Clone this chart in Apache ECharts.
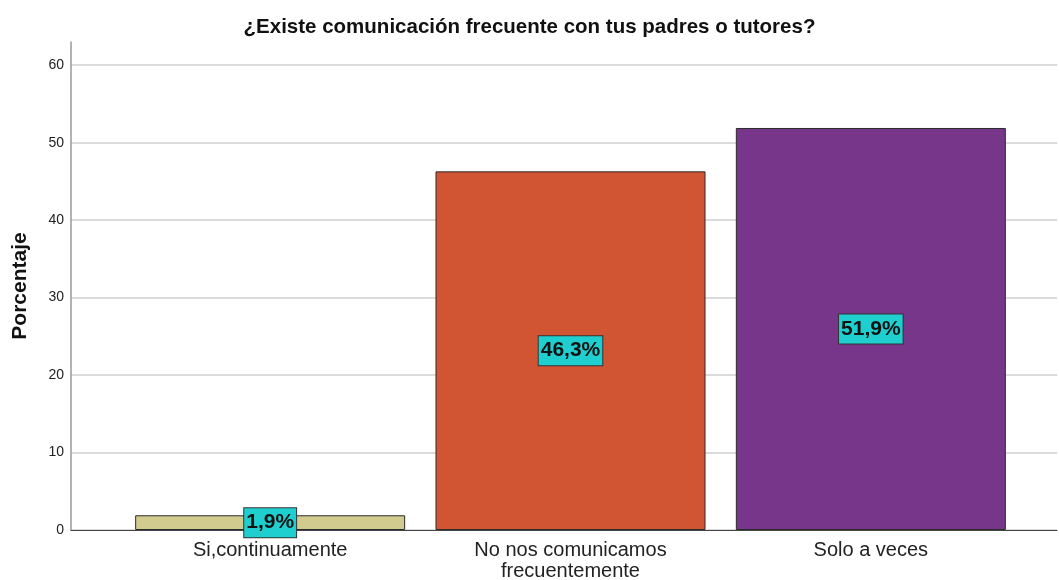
<!DOCTYPE html>
<html>
<head>
<meta charset="utf-8">
<script src="https://cdn.jsdelivr.net/npm/echarts@6/dist/echarts.min.js"></script>
<style>
  html, body { margin: 0; padding: 0; background: #fff; }
  #chart { width: 1059px; height: 580px; }
</style>
</head>
<body>
<div id="chart"></div>
<script>
const categories = ['Si,continuamente', 'No nos comunicamos\nfrecuentemente', 'Solo a veces'];
const percentages = [1.9, 46.3, 51.9];
const barColors = ['#d1cb8f', '#d15433', '#77368a'];
const yTicks = [0, 10, 20, 30, 40, 50, 60];

const chart = echarts.init(document.getElementById('chart'));

const font = 'Liberation Sans, Arial, sans-serif';

const option = {
  backgroundColor: '#ffffff',
  animation: false,
  title: {
    text: '¿Existe comunicación frecuente con tus padres o tutores?',
    left: 'center',
    top: 12,
    textStyle: { fontFamily: font, fontSize: 20.5, fontWeight: 'bold', color: '#111' }
  },
  grid: [
    { left: 71, right: 2, top: 42, bottom: 50, outerBoundsMode: 'none' },
    { left: 120, right: 38, top: 42, bottom: 50, outerBoundsMode: 'none' }
  ],
  xAxis: [
    {
      gridIndex: 0, type: 'value', min: 0, max: 1,
      axisLine: { show: true, onZero: false, lineStyle: { color: '#444', width: 1 } },
      axisTick: { show: false }, axisLabel: { show: false }, splitLine: { show: false }
    },
    {
      gridIndex: 1, type: 'category', data: categories,
      axisLine: { show: false }, axisTick: { show: false },
      axisLabel: {
        fontFamily: font, fontSize: 20, color: '#222', margin: 10, lineHeight: 21,
        interval: 0
      }
    }
  ],
  yAxis: [
    {
      gridIndex: 0, type: 'value', min: 0, max: 63, interval: 10,
      name: 'Porcentaje', nameLocation: 'middle', nameGap: 40, nameRotate: 90,
      nameTextStyle: { fontFamily: font, fontSize: 21, fontWeight: 'bold', color: '#111' },
      axisLine: { show: true, lineStyle: { color: '#999', width: 1.5 } },
      axisTick: { show: false },
      axisLabel: {
        fontFamily: font, fontSize: 14, color: '#222', margin: 7, showMaxLabel: false,
        formatter: v => (yTicks.includes(v) ? String(v) : '')
      },
      splitLine: { show: true, showMaxLine: false, lineStyle: { color: '#cfcfcf', width: 1.5 } }
    },
    {
      gridIndex: 1, type: 'value', min: 0, max: 63, show: false
    }
  ],
  series: [
    {
      type: 'bar', xAxisIndex: 1, yAxisIndex: 1,
      barWidth: 270,
      data: percentages.map((v, i) => ({
        value: v,
        itemStyle: { color: barColors[i], borderColor: '#2b2b2b', borderWidth: 1 }
      })),
      label: {
        show: true, position: 'inside',
        formatter: p => p.value.toFixed(1).replace('.', ',') + '%',
        fontFamily: font, fontSize: 21, fontWeight: 'bold', color: '#111',
        backgroundColor: '#1fcfcf', borderColor: '#333', borderWidth: 1,
        padding: [5, 2, 3, 2]
      }
    }
  ]
};

chart.setOption(option);
</script>
</body>
</html>
